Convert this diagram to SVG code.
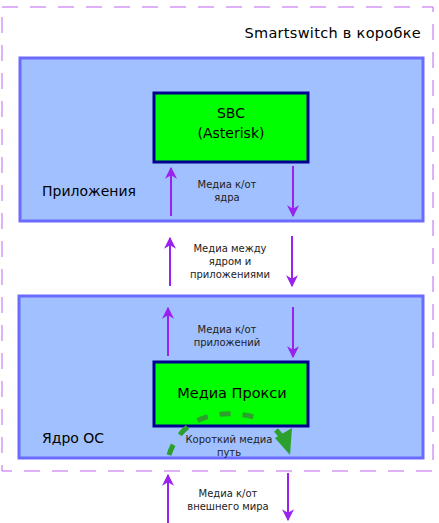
<svg xmlns="http://www.w3.org/2000/svg" width="439" height="523" viewBox="0 0 439 523">
<style>
text{font-family:"DejaVu Sans",sans-serif;fill:#000}
.sm{font-size:10px;text-anchor:middle;fill:#222}
.lbl{font-size:14px}
.layer{fill:#a0c0ff;stroke:#6b6bff;stroke-width:3}
.box{fill:#00ff00;stroke:#000090;stroke-width:3}
.arr{stroke:#9a22ee;stroke-width:2;fill:none;marker-end:url(#ah)}
</style>
<defs>
<marker id="ah" viewBox="0 0 10 10" refX="9" refY="5" markerWidth="6" markerHeight="6" orient="auto" markerUnits="strokeWidth">
<path d="M0,0 L10,5 L0,10 L3,5 Z" fill="#9a22ee"/>
</marker>
</defs>
<g id="outer">
<rect x="2" y="7" width="431" height="464" fill="none" stroke="#c060f0" stroke-width="1" stroke-dasharray="16,12"/>
<text x="421" y="38" font-size="14.5" text-anchor="end" letter-spacing="0.3">Smartswitch в коробке</text>
</g>
<g id="apps">
<rect class="layer" x="20" y="58" width="403" height="163"/>
<text class="lbl" x="42" y="196">Приложения</text>
</g>
<g id="sbc">
<rect class="box" x="154" y="93" width="154" height="69"/>
<text x="231" y="118" font-size="14" text-anchor="middle">SBC</text>
<text x="231" y="138" font-size="14" text-anchor="middle">(Asterisk)</text>
</g>
<g id="kernel">
<rect class="layer" x="19" y="296" width="404" height="162"/>
<text class="lbl" x="42" y="443">Ядро ОС</text>
</g>
<g id="proxy">
<rect class="box" x="154" y="362" width="154" height="64"/>
<text x="232" y="398" font-size="14.5" text-anchor="middle">Медиа Прокси</text>
</g>
<g id="connectors">
<line class="arr" x1="171" y1="216" x2="171" y2="168"/>
<line class="arr" x1="293" y1="166" x2="293" y2="216"/>
<line class="arr" x1="170" y1="286" x2="170" y2="238"/>
<line class="arr" x1="292" y1="236" x2="292" y2="286"/>
<line class="arr" x1="168" y1="356" x2="168" y2="308"/>
<line class="arr" x1="293" y1="307" x2="293" y2="357"/>
<line class="arr" x1="168" y1="523" x2="168" y2="475"/>
<line class="arr" x1="288" y1="473" x2="288" y2="520"/>
<path d="M169,455 C180,420 215,405 262,419" fill="none" stroke="#2ca02c" stroke-width="5" stroke-dasharray="11,12"/>
<path d="M276,430 L283,438" fill="none" stroke="#2ca02c" stroke-width="5"/>
<path d="M275,438 L292,428 L290,455 Z" fill="#2ca02c"/>
</g>
<g id="labels">
<text class="sm" x="227" y="188">Медиа к/от</text>
<text class="sm" x="227" y="201">ядра</text>
<text class="sm" x="230" y="252">Медиа между</text>
<text class="sm" x="230" y="265">ядром и</text>
<text class="sm" x="230" y="278">приложениями</text>
<text class="sm" x="227" y="333">Медиа к/от</text>
<text class="sm" x="227" y="346">приложений</text>
<text class="sm" x="229" y="443">Короткий медиа</text>
<text class="sm" x="229" y="456">путь</text>
<text class="sm" x="228" y="497">Медиа к/от</text>
<text class="sm" x="228" y="510">внешнего мира</text>
</g>
</svg>
